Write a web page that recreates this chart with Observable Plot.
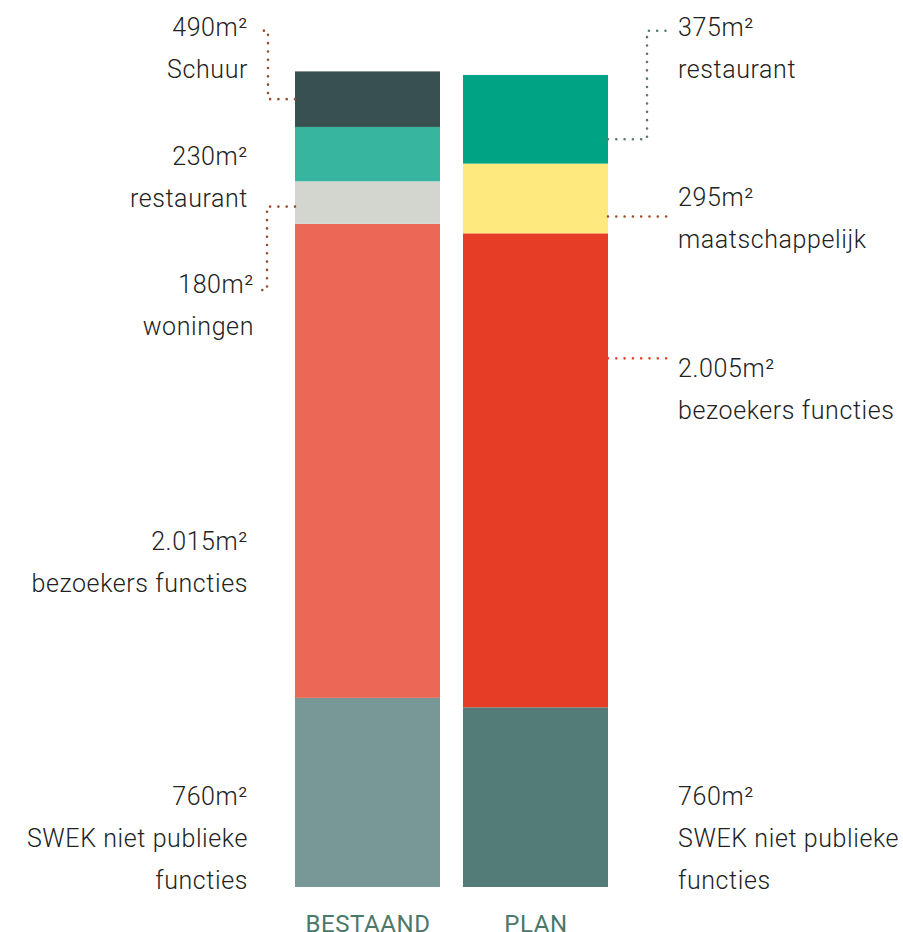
<!DOCTYPE html>
<html>
<head>
<meta charset="utf-8">
<script src="https://cdn.jsdelivr.net/npm/d3@7"></script>
<script src="https://cdn.jsdelivr.net/npm/@observablehq/plot@0.6"></script>
<style>
  html, body { margin: 0; padding: 0; background: #fff; }
  #chart svg { display: block; }
  #chart [aria-label="x-axis tick label"] text { letter-spacing: 0.6px; }
  #chart g[aria-label="text"] text { letter-spacing: 0.6px; }
</style>
</head>
<body>
<div id="chart"></div>
<script>
// ---- data ----
const bars = ["BESTAAND", "PLAN"];

// bottom -> top
const bestaandFuncties = ["SWEK niet publieke\nfuncties", "bezoekers functies", "woningen", "restaurant", "Schuur"];
const bestaandM2 = [760, 2015, 180, 230, 490];          // labelled areas
const bestaandBarLength = [800, 2005, 180, 230, 235];   // segment lengths as drawn in the picture
const bestaandColors = ["#779896", "#eb6756", "#d3d6cf", "#38b59e", "#385150"];

const planFuncties = ["SWEK niet publieke\nfuncties", "bezoekers functies", "maatschappelijk", "restaurant"];
const planM2 = [760, 2005, 295, 375];
const planBarLength = [760, 2005, 295, 375];
const planColors = ["#537c79", "#e63e26", "#fee97f", "#00a384"];

// ---- annotation layout (pixel offsets, separate from data) ----
// cy: offset of the first label line's centre from the segment middle
// leader: barDy (offset from segment middle at bar edge), elbow/end (px from bar edge), endDy (from first-line centre) or straight
const annotationLayout = {
  "BESTAAND|Schuur":        {dx: -120, cy: -72.5, leader: {barDy: 0, elbow: -27, end: -39, endDy: 4}, stroke: "#9c4a2a"},
  "BESTAAND|restaurant":    {dx: -120, cy: 1.5},
  "BESTAAND|woningen":      {dx: -114, cy: 81.5, leader: {barDy: 4, elbow: -28, end: -39, endDy: 6}, stroke: "#9c4a2a"},
  "BESTAAND|bezoekers functies": {dx: -120, cy: 79.5},
  "BESTAAND|SWEK niet publieke\nfuncties": {dx: -120, cy: 3.5},
  "PLAN|restaurant":        {dx: 142, cy: -92.5, leader: {barDy: 20, elbow: 39, end: 59, endDy: 4}, stroke: "#56786f"},
  "PLAN|maatschappelijk":   {dx: 142, cy: -1.5, leader: {barDy: 18, end: 60}, stroke: "#9c4a2a"},
  "PLAN|bezoekers functies":{dx: 142, cy: -102.5, leader: {barDy: -112, end: 60}, stroke: "#e5432b"},
  "PLAN|SWEK niet publieke\nfuncties": {dx: 142, cy: -1.5}
};

// ---- build table ----
const nl = d3.formatLocale({decimal: ",", thousands: ".", grouping: [3], currency: ["€", ""]});
const fmt = nl.format(",");

function build(bar, names, m2, lengths, colors) {
  let cum = 0;
  return names.map((n, i) => {
    const y1 = cum; cum += lengths[i];
    return {bar, functie: n, m2: m2[i], length: lengths[i], color: colors[i],
            mid: (y1 + cum) / 2, label: fmt(m2[i]) + "m²\n" + n};
  });
}
const rows = [
  ...build("BESTAAND", bestaandFuncties, bestaandM2, bestaandBarLength, bestaandColors),
  ...build("PLAN", planFuncties, planM2, planBarLength, planColors)
];

const FONT = 25, LINE = 42;
// Plot puts the first baseline 0.71 * lineHeight below the anchor for lineAnchor "top"
const firstCapCentre = 0.71 * LINE - 0.355 * FONT;

const textMarks = rows.map(r => {
  const L = annotationLayout[r.bar + "|" + r.functie];
  return Plot.text([r], {
    x: "bar", y: "mid", text: "label",
    dx: L.dx, dy: L.cy - firstCapCentre,
    textAnchor: L.dx < 0 ? "end" : "start",
    lineAnchor: "top", lineHeight: LINE / FONT,
    fontSize: FONT, fontWeight: 300, fill: "#222"
  });
});

const chart = Plot.plot({
  width: 903, height: 932,
  marginTop: 0, marginBottom: 45, marginLeft: 0, marginRight: 0,
  style: {fontFamily: "Roboto, sans-serif", background: "#fff"},
  x: {domain: bars, range: [294.5, 607.5], paddingInner: 0.137, paddingOuter: 0, axis: null},
  y: {domain: [0, 3752], axis: null},
  color: {type: "identity"},
  marks: [
    Plot.barY(rows, {x: "bar", y: "length", fill: "color", inset: 0}),
    Plot.axisX({label: null, tickSize: 0, tickPadding: 27, fontSize: 24, fill: "#4a786b", fontWeight: 400}),
    ...textMarks
  ]
});

// ---- leader lines (anchored to the bar scales) ----
const xs = chart.scale("x"), ys = chart.scale("y");
const bw = xs.bandwidth;
const svg = d3.select(chart);
const g = svg.append("g").attr("fill", "none").attr("stroke-width", 2.6)
  .attr("stroke-linecap", "round").attr("stroke-dasharray", "0 8.3");
for (const r of rows) {
  const L = annotationLayout[r.bar + "|" + r.functie];
  if (!L.leader) continue;
  const left = L.dx < 0;
  const edge = left ? xs.apply(r.bar) : xs.apply(r.bar) + bw;
  const yb = ys.apply(r.mid) + L.leader.barDy;
  const pts = [[edge, yb]];
  if (L.leader.endDy != null) {
    const yl = ys.apply(r.mid) + L.cy + L.leader.endDy;
    pts.push([edge + L.leader.elbow, yb], [edge + L.leader.elbow, yl], [edge + L.leader.end, yl]);
  } else {
    pts.push([edge + L.leader.end, yb]);
  }
  g.append("path").attr("stroke", L.stroke).attr("d", d3.line()(pts));
}

document.getElementById("chart").appendChild(chart);
</script>
</body>
</html>
